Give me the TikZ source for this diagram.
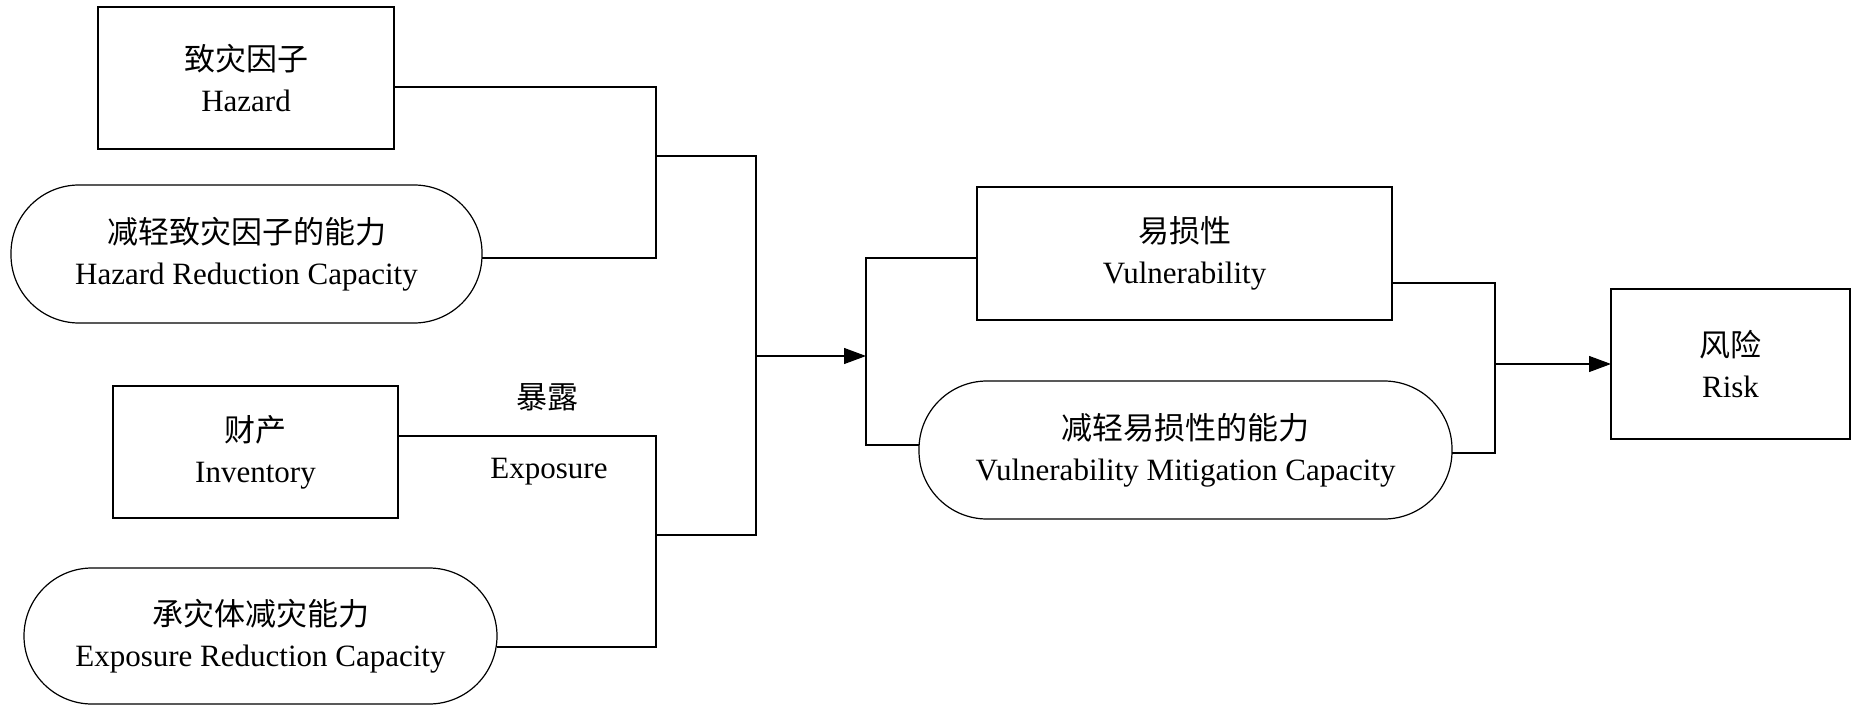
\documentclass[tikz,border=0pt]{standalone}
\usepackage{fontspec}
\setmainfont{Liberation Serif}
\newfontfamily\cjk{Noto Sans CJK SC}
\usetikzlibrary{arrows.meta}
\begin{document}
\begin{tikzpicture}[x=0.5pt,y=-0.5pt,
  every node/.style={font=\fontsize{15.5}{20.5}\selectfont, align=center, inner sep=0pt, outer sep=0pt},
  box/.style={draw, line width=0.6pt},
  pill/.style={draw, line width=0.6pt},
  link/.style={line width=0.6pt},
  flow/.style={line width=0.6pt, -{Triangle[length=11pt,width=8pt]}}]
\useasboundingbox (0,0) rectangle (1852,706);

% left column: hazard side
\node[box, minimum width=148pt, minimum height=71pt] (haz) at (246,78) {{\cjk 致灾因子}\\Hazard};
\node[pill, rounded corners=34pt, minimum width=235.5pt, minimum height=69pt] (hrc) at (246.5,254) {{\cjk 减轻致灾因子的能力}\\Hazard Reduction Capacity};

% left column: exposure side
\node[box, minimum width=142.5pt, minimum height=66pt] (inv) at (255.5,452) {{\cjk 财产}\\Inventory};
\node[pill, rounded corners=34pt, minimum width=236.5pt, minimum height=68pt] (erc) at (260.5,636) {{\cjk 承灾体减灾能力}\\Exposure Reduction Capacity};
\node (expzh) at (547,397) {\cjk 暴露};
\node (expen) at (549,472) {Exposure};

% middle column: vulnerability
\node[box, minimum width=207.5pt, minimum height=66.5pt] (vul) at (1184.5,253.5) {{\cjk 易损性}\\Vulnerability};
\node[pill, rounded corners=34pt, minimum width=266.5pt, minimum height=69pt] (vmc) at (1185.5,450) {{\cjk 减轻易损性的能力}\\Vulnerability Mitigation Capacity};

% right: risk
\node[box, minimum width=119.5pt, minimum height=75pt] (risk) at (1730.5,364) {{\cjk 风险}\\Risk};

% junction points of the brackets
\coordinate (hT) at (656,87);
\coordinate (hB) at (656,258);
\coordinate (eT) at (656,436);
\coordinate (eB) at (656,647);
\coordinate (mT) at (756,156);
\coordinate (mB) at (756,535);
\coordinate (mO) at (756,356);
\coordinate (vT) at (866,258);
\coordinate (vB) at (866,445);
\coordinate (rT) at (1495,283);
\coordinate (rB) at (1495,453);
\coordinate (rO) at (1495,364);

% hazard bracket
\draw[link] (haz.east |- hT) -- (hT) -- (hB) -- (hrc.east |- hB);
% exposure bracket
\draw[link] (inv.east |- eT) -- (eT) -- (eB) -- (erc.east |- eB);
% merge of hazard and exposure
\draw[link] (hT |- mT) -- (mT) -- (mB) -- (eT |- mB);
\draw[flow] (mO) -- (vT |- mO);
% vulnerability bracket
\draw[link] (vul.west |- vT) -- (vT) -- (vB) -- (vmc.west |- vB);
\draw[link] (vul.east |- rT) -- (rT) -- (rB) -- (vmc.east |- rB);
\draw[flow] (rO) -- (risk.west);
\end{tikzpicture}
\end{document}
